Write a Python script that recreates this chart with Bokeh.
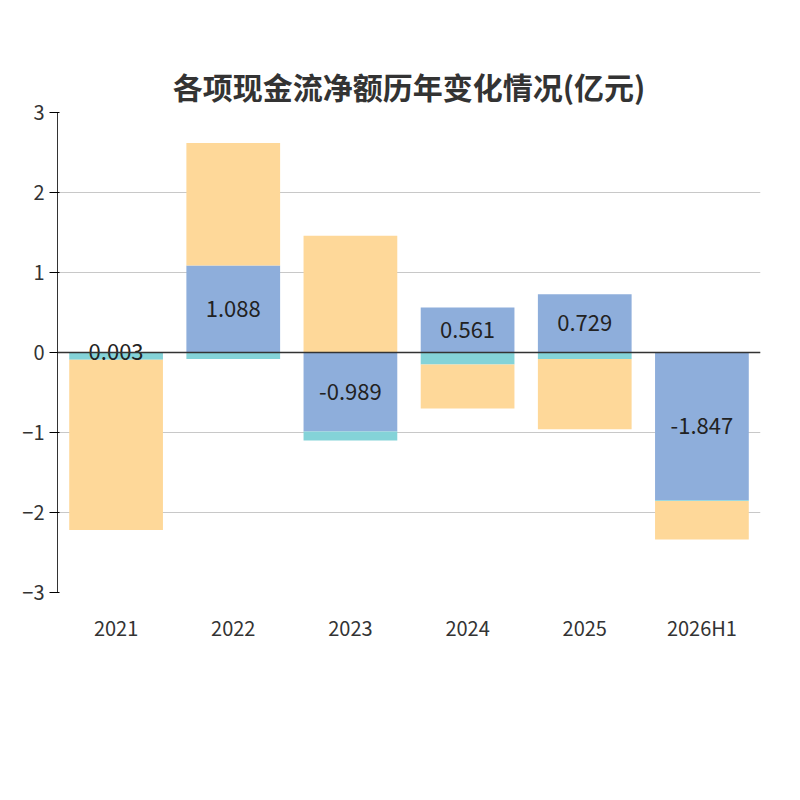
from bokeh.plotting import figure
from bokeh.models import Legend, LegendItem, Label, Span, FixedTicker, Range1d
from bokeh.embed import file_html
from bokeh.resources import INLINE
from bokeh.core.properties import value

years = ["2021", "2022", "2023", "2024", "2025", "2026H1"]
operating = [0.003, 1.088, -0.989, 0.561, 0.729, -1.847]
investing = [-0.09, -0.08, -0.11, -0.15, -0.08, -0.01]
financing = [-2.13, 1.53, 1.46, -0.55, -0.88, -0.48]
series_names = ["经营活动现金流量净额", "投资活动现金流量净额", "筹资活动现金流量净额"]
colors = ["#8eaedb", "#84d3d8", "#fed899"]

FONT = "Noto Sans CJK SC"
p = figure(width=784, height=784, x_range=years, y_range=Range1d(-3, 3),
           output_backend="svg", toolbar_location=None,
           min_border_left=57, min_border_right=24, min_border_top=112, min_border_bottom=192)
p.outline_line_color = None
p.background_fill_color = "white"

pos = [0.0] * len(years)
neg = [0.0] * len(years)
renderers = []
for vals, col in zip([operating, investing, financing], colors):
    bottoms, tops = [], []
    for i, v in enumerate(vals):
        if v >= 0:
            bottoms.append(pos[i]); tops.append(pos[i] + v); pos[i] += v
        else:
            tops.append(neg[i]); bottoms.append(neg[i] + v); neg[i] += v
    r = p.vbar(x=years, bottom=bottoms, top=tops, width=0.8, color=col, line_color=None)
    renderers.append(r)

for y, v in zip(years, operating):
    p.text(x=[y], y=[v / 2 if abs(v) > 0.3 else v], text=[f"{v:.3f}"],
           text_align="center", text_baseline="middle", text_font_size="22px",
           text_color="#222", text_font=value(FONT))

p.add_layout(Span(location=0, dimension="width", line_color="#333", line_width=1.5))

p.yaxis.ticker = FixedTicker(ticks=[-3, -2, -1, 0, 1, 2, 3])
p.yaxis.major_label_text_font_size = "20px"
p.yaxis.major_label_text_color = "#333"
p.yaxis.axis_line_color = "#333"
p.yaxis.major_tick_out = 8
p.yaxis.minor_tick_line_color = None
p.xaxis.axis_line_color = None
p.xaxis.major_tick_line_color = None
p.xaxis.major_label_text_font_size = "20px"
p.xaxis.major_label_text_color = "#333"
p.xaxis.major_label_standoff = 14
p.xaxis.major_label_text_font = FONT
p.yaxis.major_label_text_font = FONT
p.xgrid.grid_line_color = None
p.ygrid.grid_line_color = "#c8c8c8"
p.ygrid.grid_line_width = 1.2

p.title.text = "各项现金流净额历年变化情况(亿元)"
p.title.align = "center"
p.title.text_font_size = "30px"
p.title.text_font = FONT
p.title.text_color = "#333"

legend = Legend(items=[LegendItem(label=series_names[0], renderers=[renderers[0]]),
                       LegendItem(label=series_names[1], renderers=[renderers[1]]),
                       LegendItem(label="", renderers=[renderers[2]])],
                orientation="horizontal", location=(-65, -150), label_text_font_size="20px",
                label_text_font=FONT, label_text_color="#333", glyph_width=50, glyph_height=28,
                border_line_color=None, background_fill_alpha=0, spacing=18, padding=0)
p.add_layout(legend, "center")

p.add_layout(Label(x=637, y=-148, x_units="screen", y_units="screen", text="◀",
                   text_color="#aaaaaa", text_font_size="22px"))
p.add_layout(Label(x=665, y=-147, x_units="screen", y_units="screen", text="1/2",
                   text_color="#333", text_font_size="20px", text_font=FONT))
p.add_layout(Label(x=710, y=-148, x_units="screen", y_units="screen", text="▶",
                   text_color="#2f4554", text_font_size="22px"))
p.add_layout(Label(x=335, y=-198, x_units="screen", y_units="screen",
                   text="制图数据来自恒生聚源数据库", text_align="center",
                   text_color="#c8962a", text_font_size="15px", text_font=FONT))
p.add_layout(Label(x=-58, y=482, x_units="screen", y_units="screen", text="(亿元)",
                   angle=-1.5708, text_color="red", text_font_size="14px", text_font=FONT))

open("out.html", "w").write(file_html(p, INLINE))
